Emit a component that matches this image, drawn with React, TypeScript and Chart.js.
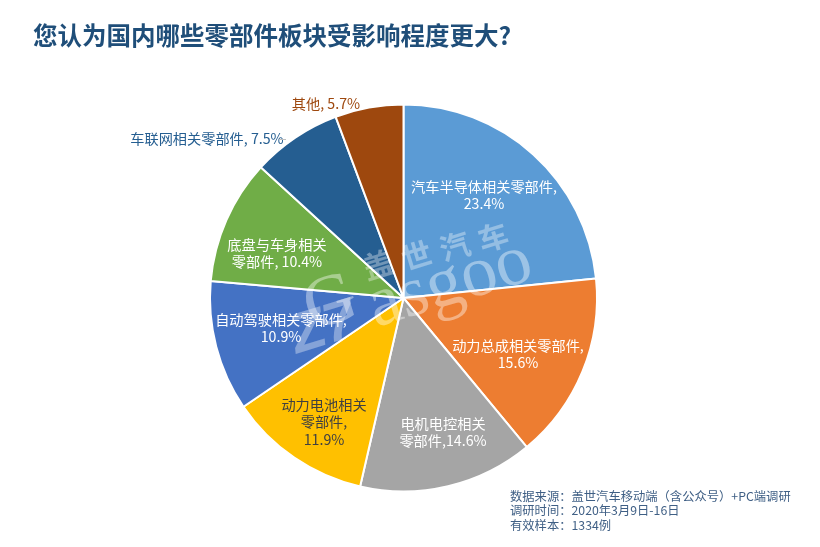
import React, { useEffect, useRef } from "react";
import { Chart, registerables } from "chart.js";

Chart.register(...registerables);

const titleText = "您认为国内哪些零部件板块受影响程度更大?";
const categories = ["汽车半导体相关零部件", "动力总成相关零部件", "电机电控相关零部件", "动力电池相关零部件", "自动驾驶相关零部件", "底盘与车身相关零部件", "车联网相关零部件", "其他"];
const shares = [23.4, 15.6, 14.6, 11.9, 10.9, 10.4, 7.5, 5.7];
const sliceColors = ["#5B9BD5", "#ED7D31", "#A5A5A5", "#FFC000", "#4472C4", "#70AD47", "#255E91", "#9E480E"];
const labelLines = [
  ["汽车半导体相关零部件,", "23.4%"],
  ["动力总成相关零部件,", "15.6%"],
  ["电机电控相关", "零部件,14.6%"],
  ["动力电池相关", "零部件,", "11.9%"],
  ["自动驾驶相关零部件,", "10.9%"],
  ["底盘与车身相关", "零部件, 10.4%"],
  ["车联网相关零部件, 7.5%"],
  ["其他, 5.7%"],
];
const labelCenters = [[484, 195], [518, 354], [443, 432], [324, 422], [281, 328], [277, 253], [207, 139], [326, 104]];
const labelColors = ["#fff", "#fff", "#fff", "#404040", "#fff", "#fff", "#255E91", "#9E480E"];
const sourceLines = [
  "数据来源\uFF1A盖世汽车移动端\uFF08含公众号\uFF09+PC端调研",
  "调研时间\uFF1A2020年3月9日-16日",
  "有效样本\uFF1A1334例",
];
const watermarkChars = ["盖", "世", "汽", "车"];
const FONT = '"Noto Sans CJK SC", "Noto Sans", sans-serif';

const overlay = {
  id: "overlay",
  afterDatasetsDraw(chart: any) {
    const ctx = chart.ctx;
    ctx.save();
    ctx.textBaseline = "middle";

    ctx.textAlign = "left";
    ctx.fillStyle = "#1F4E79";
    ctx.font = `bold 24.5px ${FONT}`;
    ctx.fillText(titleText, 33, 36);

    ctx.textAlign = "center";
    ctx.font = `14.2px ${FONT}`;
    labelLines.forEach((lines, i) => {
      const [cx, cy] = labelCenters[i];
      const lh = 17.5;
      ctx.fillStyle = labelColors[i];
      lines.forEach((t, j) => {
        ctx.fillText(t, cx, cy + (j - (lines.length - 1) / 2) * lh);
      });
    });

    ctx.strokeStyle = "#BFBFBF";
    ctx.lineWidth = 1;
    ctx.beginPath();
    ctx.moveTo(279, 139.5);
    ctx.lineTo(286, 139.5);
    ctx.stroke();

    ctx.textAlign = "left";
    ctx.font = `12.3px ${FONT}`;
    ctx.fillStyle = "#3F5F85";
    sourceLines.forEach((t, i) => ctx.fillText(t, 510, 496.5 + i * 14.2));

    // watermark
    ctx.translate(403, 298);
    ctx.rotate((-17 * Math.PI) / 180);
    ctx.fillStyle = "rgba(255,255,255,0.4)";
    ctx.textBaseline = "alphabetic";
    ctx.textAlign = "left";
    ctx.font = `72px "Liberation Serif", serif`;
    ctx.fillText("asgoo", -35, 20);
    ctx.textAlign = "center";
    ctx.fillText("G", -71, 4);
    ctx.fillStyle = "rgba(255,255,255,0.35)";
    ctx.font = `bold italic 56px "Liberation Sans", sans-serif`;
    ctx.fillText("Z7", -85, 22);
    ctx.textBaseline = "middle";
    ctx.font = `bold 30px ${FONT}`;
    watermarkChars.forEach((c, i) => ctx.fillText(c, -14 + i * 39.3, -39 + i * 2.3));
    ctx.restore();
  },
};

export default function App() {
  const ref = useRef<HTMLCanvasElement>(null);
  useEffect(() => {
    document.body.style.margin = "0";
    document.body.style.background = "#fff";
    const chart = new Chart(ref.current!, {
      type: "pie",
      data: {
        labels: categories,
        datasets: [{ data: shares, backgroundColor: sliceColors, borderColor: "#fff", borderWidth: 2 }],
      },
      options: {
        responsive: false,
        animation: false,
        layout: { padding: { left: 209, right: 222, top: 102, bottom: 53 } },
        plugins: { legend: { display: false }, tooltip: { enabled: false } },
      },
      plugins: [overlay],
    } as any);
    return () => chart.destroy();
  }, []);
  return <canvas ref={ref} width={820} height={547} style={{ display: "block" }} />;
}
